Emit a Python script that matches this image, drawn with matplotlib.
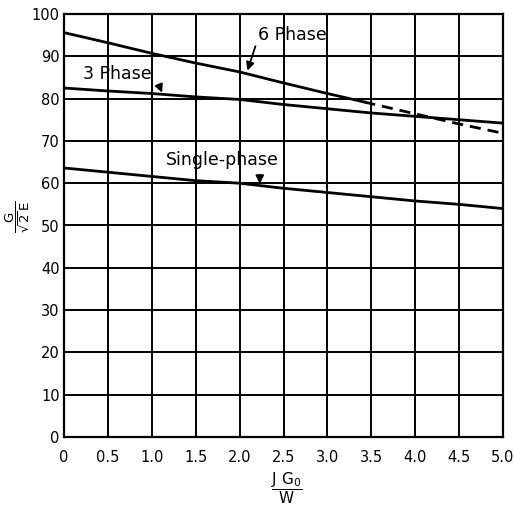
import matplotlib
matplotlib.use("Agg")
import matplotlib.pyplot as plt
import numpy as np

# values
x_ticks = [0, 0.5, 1.0, 1.5, 2.0, 2.5, 3.0, 3.5, 4.0, 4.5, 5.0]
x_tick_labels = ["0", "0.5", "1.0", "1.5", "2.0", "2.5", "3.0", "3.5", "4.0", "4.5", "5.0"]
y_ticks = [0, 10, 20, 30, 40, 50, 60, 70, 80, 90, 100]

six_x = [0, 0.5, 1.0, 1.5, 2.0, 2.5, 3.0, 3.42]
six_y = [95.6, 93.2, 90.7, 88.4, 86.3, 83.7, 81.2, 79.2]
six_dash_x = [3.42, 3.5, 4.0, 4.5, 5.0]
six_dash_y = [79.2, 78.8, 76.4, 74.0, 71.8]

three_x = [0, 0.5, 1.0, 1.5, 2.0, 2.5, 3.0, 3.5, 4.0, 4.5, 5.0]
three_y = [82.5, 81.8, 81.2, 80.4, 79.8, 78.6, 77.6, 76.6, 75.8, 75.0, 74.2]

single_x = [0, 0.5, 1.0, 1.5, 2.0, 2.5, 3.0, 3.5, 4.0, 4.5, 5.0]
single_y = [63.6, 62.6, 61.6, 60.6, 60.0, 58.8, 57.8, 56.8, 55.8, 55.0, 54.0]

plt.rcParams["mathtext.fontset"] = "dejavusans"
plt.rcParams["mathtext.default"] = "regular"

fig = plt.figure(figsize=(5.15, 5.05), dpi=100)
ax = fig.add_axes([64 / 515, 1 - 437 / 505, 439 / 515, 423 / 505])

ax.set_xlim(0, 5)
ax.set_ylim(0, 100)
ax.set_xticks(x_ticks)
ax.set_xticklabels(x_tick_labels)
ax.set_yticks(y_ticks)
ax.tick_params(length=0, labelsize=10.5, colors="black")
ax.tick_params(axis="x", pad=9)
ax.tick_params(axis="y", pad=3)
ax.grid(True, color="black", linewidth=1.4)
for s in ax.spines.values():
    s.set_linewidth(1.6)

# curves
ax.plot(six_x, six_y, color="black", linewidth=2)
ax.plot(six_dash_x, six_dash_y, color="black", linewidth=2, linestyle=(0, (4, 2.5)))
ax.plot(three_x, three_y, color="black", linewidth=2)
ax.plot(single_x, single_y, color="black", linewidth=2)

# labels and arrows
arrow = dict(arrowstyle="-|>", color="black", linewidth=1.3, mutation_scale=12)
ax.text(2.21, 95.0, "6 Phase", fontsize=12.5, va="center", ha="left")
ax.annotate("", xy=(2.08, 86.0), xytext=(2.19, 93.0), arrowprops=arrow)

ax.text(0.22, 85.9, "3 Phase", fontsize=12.5, va="center", ha="left")
ax.annotate("", xy=(1.13, 80.8), xytext=(1.07, 83.8), arrowprops=arrow)

ax.text(1.16, 65.5, "Single-phase", fontsize=12.5, va="center", ha="left")
ax.annotate("", xy=(2.23, 59.2), xytext=(2.23, 62.6), arrowprops=arrow)

# axis labels (fractions)
fig.text(18 / 515, 1 - 217 / 505, r"$\dfrac{G}{\sqrt{2}\,E}$", rotation=90,
         fontsize=9.5, ha="center", va="center")
fig.text(287 / 515, 1 - 488 / 505, r"$\dfrac{J\ G_0}{W}$",
         fontsize=11, ha="center", va="center")

fig.savefig("out.png", dpi=100)
